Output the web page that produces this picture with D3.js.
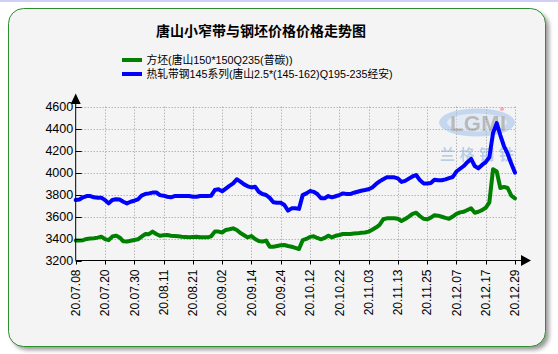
<!DOCTYPE html>
<html>
<head>
<meta charset="utf-8">
<script src="https://cdn.jsdelivr.net/npm/d3@7"></script>
<style>
  html, body { margin: 0; padding: 0; background: #ffffff; }
  svg { display: block; }
  text { font-family: "Liberation Sans", Arial, "Noto Sans CJK SC", sans-serif; }
</style>
</head>
<body>
<div id="chart"></div>
<script>
// ------------------------------------------------------------
//  Data (one value per trading day)
// ------------------------------------------------------------
const title = '唐山小窄带与钢坯价格价格走势图';
const seriesNames = ['方坯(唐山150*150Q235(普碳))', '热轧带钢145系列(唐山2.5*(145-162)Q195-235经安)'];
const seriesColors = ['#008000', '#0000ff'];

const tickLabels = ['20.07.08', '20.07.20', '20.07.30', '20.08.11', '20.08.21', '20.09.02', '20.09.14', '20.09.24',
  '20.10.12', '20.10.22', '20.11.03', '20.11.13', '20.11.25', '20.12.07', '20.12.17', '20.12.29'];
const tickStep = 8; // one label every 8 points

const yTicks = [3200, 3400, 3600, 3800, 4000, 4200, 4400, 4600];

// 方坯
const billet = [
  3381, 3381, 3385, 3396, 3400, 3402, 3408, 3417, 3395, 3385,
  3418, 3426, 3410, 3375, 3372, 3380, 3387, 3393, 3417, 3441,
  3440, 3463, 3441, 3425, 3430, 3432, 3426, 3423, 3420, 3417,
  3415, 3411, 3415, 3417, 3411, 3411, 3411, 3420, 3463, 3463,
  3455, 3478, 3484, 3493, 3478, 3450, 3430, 3410, 3423, 3395,
  3378, 3372, 3381, 3326, 3326, 3332, 3338, 3341, 3332, 3325,
  3315, 3305, 3385, 3396, 3415, 3420, 3405, 3393, 3405, 3426,
  3410, 3425, 3432, 3441, 3441, 3441, 3445, 3447, 3452, 3455,
  3463, 3480, 3500, 3525, 3575, 3584, 3584, 3584, 3580, 3560,
  3578, 3600, 3625, 3635, 3605, 3580, 3575, 3590, 3612, 3608,
  3598, 3588, 3580, 3600, 3625, 3638, 3644, 3660, 3675, 3635,
  3644, 3658, 3680, 3730, 4030, 4010, 3860, 3870, 3860, 3790,
  3766
];

// 热轧带钢
const strip = [
  3750, 3755, 3775, 3787, 3787, 3775, 3772, 3772, 3750, 3720,
  3750, 3757, 3755, 3735, 3720, 3735, 3744, 3757, 3790, 3805,
  3811, 3818, 3820, 3795, 3790, 3780, 3775, 3787, 3787, 3787,
  3787, 3787, 3780, 3780, 3787, 3787, 3787, 3790, 3841, 3848,
  3830, 3855, 3880, 3902, 3939, 3918, 3893, 3875, 3865, 3872,
  3826, 3805, 3796, 3770, 3730, 3726, 3726, 3705, 3654, 3675,
  3675, 3670, 3795, 3811, 3832, 3825, 3805, 3766, 3766, 3787,
  3775, 3785, 3796, 3811, 3805, 3805, 3817, 3826, 3835, 3841,
  3848, 3865, 3895, 3920, 3940, 3957, 3957, 3957, 3948, 3915,
  3925, 3945, 3965, 3978, 3932, 3902, 3900, 3905, 3935, 3930,
  3930, 3939, 3950, 3960, 4010, 4035, 4060, 4095, 4125, 4060,
  4039, 4070, 4095, 4140, 4360, 4450, 4340, 4240, 4170, 4080,
  4000
];

// ------------------------------------------------------------
//  Layout
// ------------------------------------------------------------
const W = 558, H = 354;
const plot = { left: 75.7, right: 515, top: 106.7, bottom: 260.5 };

const svg = d3.select('#chart').append('svg')
  .attr('width', W).attr('height', H);

const defs = svg.append('defs');
defs.append('filter').attr('id', 'shadow')
  .attr('x', '-5%').attr('y', '-5%').attr('width', '115%').attr('height', '115%')
  .append('feGaussianBlur').attr('stdDeviation', 2);

// top strip of the page
svg.append('rect').attr('x', 0).attr('y', 0).attr('width', W).attr('height', 2).attr('fill', '#d0d0f6');

// panel with shadow
svg.append('rect')
  .attr('x', 12).attr('y', 12).attr('width', 537).attr('height', 338).attr('rx', 15)
  .attr('fill', '#9a9a9a').attr('filter', 'url(#shadow)');
svg.append('rect')
  .attr('x', 8.5).attr('y', 8.5).attr('width', 537).attr('height', 338).attr('rx', 15)
  .attr('fill', '#f4f4f4').attr('stroke', '#2d8f2d').attr('stroke-width', 1);

// title
svg.append('text')
  .attr('x', 261).attr('y', 36)
  .attr('text-anchor', 'middle')
  .style('font-family', '"Noto Sans CJK SC", sans-serif')
  .style('font-weight', 'bold')
  .style('font-size', '14px')
  .text(title);

// legend (the original uses a narrow face, so squeeze to the measured widths)
const legendWidths = [146, 246];
const legend = svg.append('g');
seriesNames.forEach((name, i) => {
  const y = 60 + i * 14;
  legend.append('line')
    .attr('x1', 122).attr('x2', 142).attr('y1', y).attr('y2', y)
    .attr('stroke', seriesColors[i]).attr('stroke-width', 4);
  legend.append('text')
    .attr('x', 146.5).attr('y', y + 4)
    .attr('textLength', legendWidths[i])
    .attr('lengthAdjust', 'spacingAndGlyphs')
    .style('font-size', '11.5px')
    .text(name);
});

// ------------------------------------------------------------
//  Scales & grid
// ------------------------------------------------------------
const x = d3.scaleLinear().domain([0, strip.length - 1]).range([plot.left, plot.right]);
const y = d3.scaleLinear().domain([3200, 4600]).range([plot.bottom, plot.top]);

const tickIdx = tickLabels.map((_, i) => i * tickStep);

const grid = svg.append('g')
  .attr('stroke', '#9a9a9a').attr('stroke-width', 1).attr('stroke-dasharray', '1,2');
grid.selectAll('.vg').data(tickIdx.slice(1)).join('line')
  .attr('x1', d => Math.round(x(d)) + 0.5).attr('x2', d => Math.round(x(d)) + 0.5)
  .attr('y1', plot.top).attr('y2', plot.bottom);
grid.selectAll('.hg').data(yTicks.slice(1)).join('line')
  .attr('x1', plot.left).attr('x2', plot.right)
  .attr('y1', d => Math.round(y(d)) + 0.5).attr('y2', d => Math.round(y(d)) + 0.5);

// ------------------------------------------------------------
//  Watermark (LGMI logo)
// ------------------------------------------------------------
const wm = svg.append('g').attr('opacity', 0.55);
wm.append('ellipse').attr('cx', 477).attr('cy', 122.5).attr('rx', 38).attr('ry', 14)
  .attr('fill', '#9fc0ea');
wm.append('ellipse').attr('cx', 477).attr('cy', 122.5).attr('rx', 30).attr('ry', 9)
  .attr('fill', '#d4e3f6');
wm.append('text').attr('x', 478).attr('y', 131).attr('text-anchor', 'middle')
  .style('font-size', '22px').style('font-weight', 'bold').attr('fill', '#8a8a8a')
  .attr('textLength', 56)
  .text('LGMI');
wm.append('circle').attr('cx', 502).attr('cy', 109).attr('r', 2).attr('fill', '#ff6b8a');
wm.append('text').attr('x', 477).attr('y', 160).attr('text-anchor', 'middle')
  .style('font-family', '"Noto Sans CJK SC", sans-serif')
  .style('font-size', '15px').style('font-weight', 'bold').attr('fill', '#8fb0dc')
  .attr('textLength', 74)
  .text('兰格钢铁');

// ------------------------------------------------------------
//  Lines
// ------------------------------------------------------------
const line = d3.line().x((d, i) => x(i)).y(d => y(d));

[billet, strip].forEach((s, i) => {
  svg.append('path').datum(s)
    .attr('d', line)
    .attr('fill', 'none')
    .attr('stroke', seriesColors[i])
    .attr('stroke-width', 4)
    .attr('stroke-linejoin', 'round')
    .attr('stroke-linecap', 'round');
});

// ------------------------------------------------------------
//  Axes
// ------------------------------------------------------------
const axes = svg.append('g').attr('stroke', '#000').attr('stroke-width', 1);
axes.append('line').attr('x1', plot.left).attr('x2', plot.left).attr('y1', plot.bottom).attr('y2', 100);
axes.append('line').attr('x1', plot.left).attr('x2', 523).attr('y1', plot.bottom).attr('y2', plot.bottom);

svg.append('path')
  .attr('d', `M${plot.left - 5},104 L${plot.left},93.5 L${plot.left + 5},104 Z`)
  .attr('fill', '#000');
svg.append('path')
  .attr('d', `M521,${plot.bottom - 5.5} L531,${plot.bottom} L521,${plot.bottom + 5.5} Z`)
  .attr('fill', '#000');

// y ticks (inward) and labels
axes.selectAll('.yt').data(yTicks).join('line')
  .attr('x1', plot.left).attr('x2', plot.left + 6)
  .attr('y1', d => Math.round(y(d)) + 0.5).attr('y2', d => Math.round(y(d)) + 0.5);
svg.selectAll('.yl').data(yTicks).join('text')
  .attr('x', plot.left - 2.5).attr('y', d => y(d))
  .attr('dy', '0.36em')
  .attr('text-anchor', 'end')
  .style('font-size', '12.5px')
  .text(d => d);

// x ticks (outward) and rotated labels
axes.selectAll('.xt').data(tickIdx).join('line')
  .attr('x1', d => Math.round(x(d)) + 0.5).attr('x2', d => Math.round(x(d)) + 0.5)
  .attr('y1', plot.bottom).attr('y2', plot.bottom + 4);
svg.selectAll('.xl').data(tickIdx).join('text')
  .attr('transform', d => `translate(${x(d)},${plot.bottom + 9}) rotate(-90)`)
  .attr('dy', '0.36em')
  .attr('text-anchor', 'end')
  .style('font-size', '12px')
  .text((d, i) => tickLabels[i]);
</script>
</body>
</html>
